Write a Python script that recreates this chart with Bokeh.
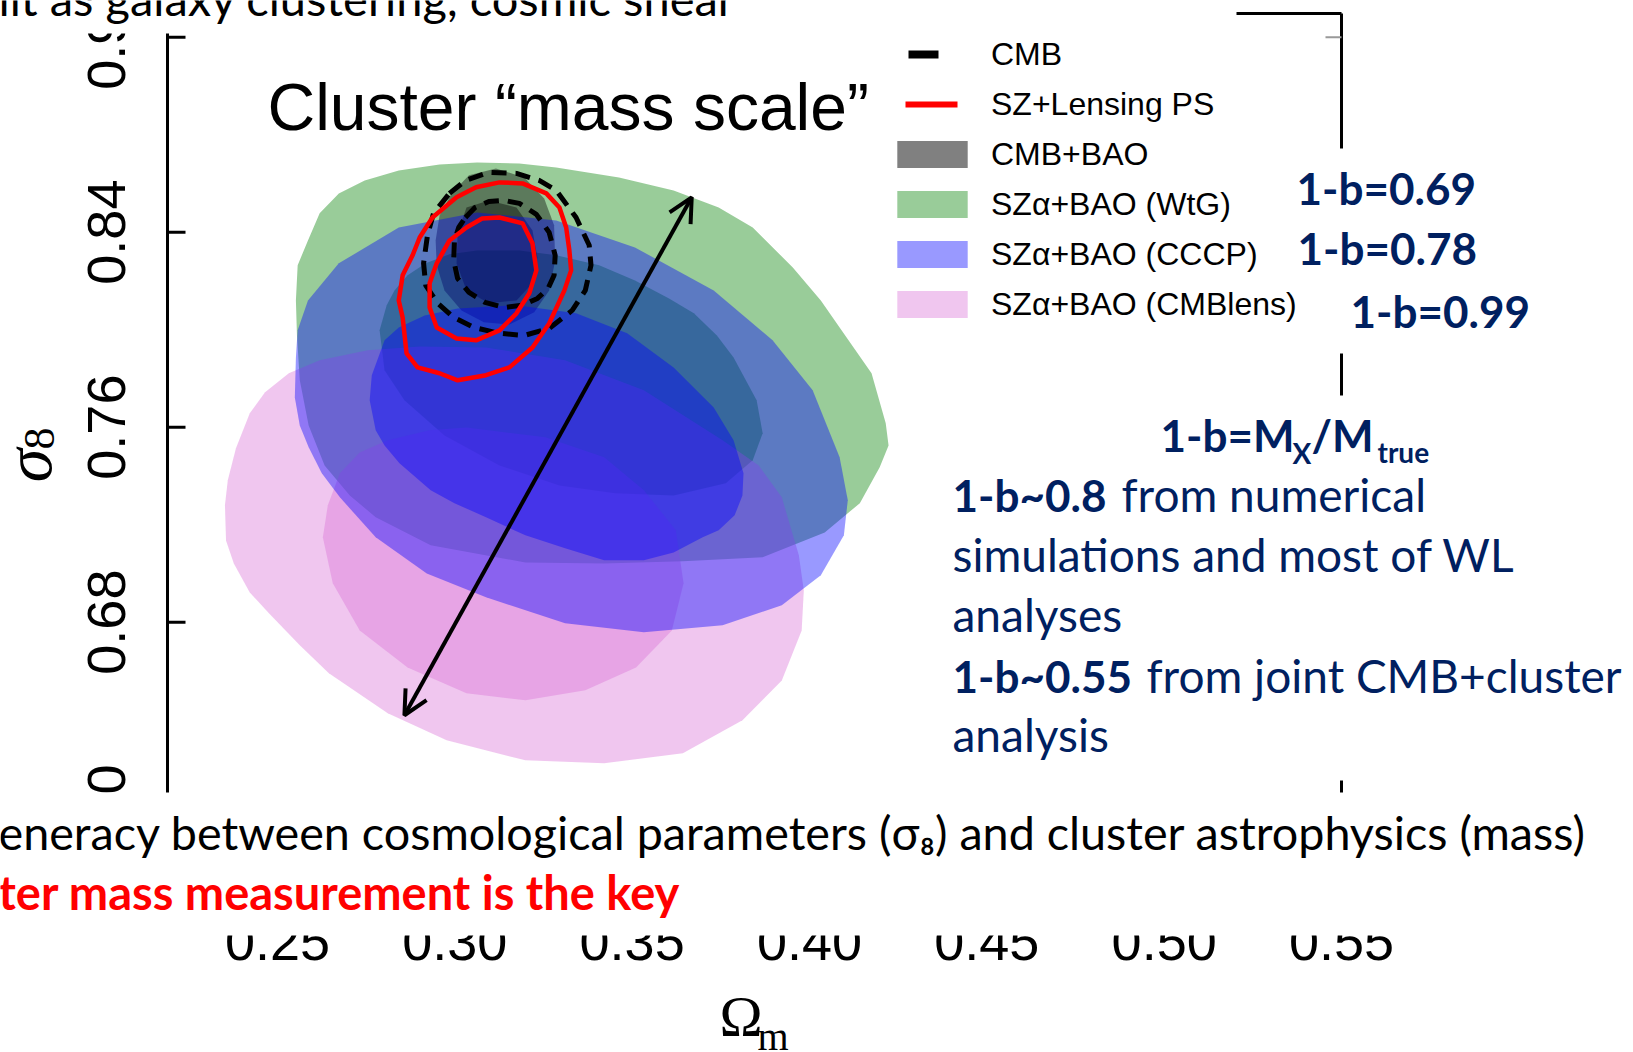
import math
import numpy as np
from bokeh.plotting import figure
from bokeh.models import (Range1d, Label, BoxAnnotation, Legend, LegendItem, Arrow, OpenHead)
from bokeh.core.properties import value
from bokeh.embed import file_html
from bokeh.resources import INLINE

# ---------------- data (Omega_m, sigma_8) ----------------
X_TICKS = [0.25, 0.30, 0.35, 0.40, 0.45, 0.50, 0.55]
Y_TICKS = [0.60, 0.68, 0.76, 0.84, 0.92]
RIGHT_TICKS = [0.92]

LEGEND_LABELS = ["CMB", "SZ+Lensing PS", "CMB+BAO", "SZα+BAO (WtG)",
                 "SZα+BAO (CCCP)", "SZα+BAO (CMBlens)"]
BIAS_LABELS = ["1-b=0.69", "1-b=0.78", "1-b=0.99"]

# SZ alpha + BAO (WtG): 95% and 68% regions
WTG_95_OM = [0.2552, 0.2557, 0.2586, 0.2619, 0.2673, 0.2746, 0.2842, 0.2957, 0.3063, 0.3182,
             0.3286, 0.3463, 0.3617, 0.3744, 0.3840, 0.3953, 0.4032, 0.4085, 0.4175, 0.4215,
             0.4223, 0.4198, 0.4142, 0.4043, 0.3868, 0.3643, 0.3421, 0.3199, 0.2932, 0.2777,
             0.2704, 0.2633, 0.2588, 0.2563, 0.2555]
WTG_95_S8 = [0.8120, 0.8264, 0.8366, 0.8477, 0.8559, 0.8612, 0.8653, 0.8678, 0.8686, 0.8682,
             0.8665, 0.8624, 0.8571, 0.8501, 0.8419, 0.8255, 0.8120, 0.8009, 0.7821, 0.7616,
             0.7525, 0.7435, 0.7288, 0.7168, 0.7066, 0.7050, 0.7041, 0.7045, 0.7115, 0.7230,
             0.7320, 0.7443, 0.7607, 0.7792, 0.7976]
WTG_68_OM = [0.2788, 0.2808, 0.2830, 0.2867, 0.2918, 0.2985, 0.3063, 0.3182, 0.3286, 0.3407,
             0.3508, 0.3604, 0.3674, 0.3739, 0.3786, 0.3851, 0.3868, 0.3840, 0.3764, 0.3617,
             0.3452, 0.3295, 0.3126, 0.2971, 0.2858, 0.2802]
WTG_68_S8 = [0.7997, 0.8100, 0.8161, 0.8223, 0.8272, 0.8309, 0.8325, 0.8325, 0.8305, 0.8264,
             0.8202, 0.8128, 0.8067, 0.7976, 0.7886, 0.7710, 0.7575, 0.7464, 0.7370, 0.7320,
             0.7329, 0.7361, 0.7443, 0.7566, 0.7710, 0.7833]

# SZ alpha + BAO (CCCP)
CCCP_95_OM = [0.2552, 0.2549, 0.2563, 0.2588, 0.2625, 0.2676, 0.2777, 0.2921, 0.3088, 0.3311,
              0.3533, 0.3755, 0.3922, 0.4032, 0.4097, 0.4108, 0.4085, 0.4009, 0.3896, 0.3730,
              0.3508, 0.3286, 0.3063, 0.2842, 0.2673, 0.2586, 0.2557]
CCCP_95_S8 = [0.7886, 0.7722, 0.7607, 0.7517, 0.7411, 0.7312, 0.7148, 0.7000, 0.6902, 0.6795,
              0.6758, 0.6787, 0.6869, 0.6992, 0.7156, 0.7300, 0.7476, 0.7751, 0.7956, 0.8161,
              0.8337, 0.8448, 0.8481, 0.8419, 0.8272, 0.8120, 0.7997]
CCCP_68_OM = [0.2760, 0.2766, 0.2802, 0.2842, 0.2915, 0.3008, 0.3174, 0.3342, 0.3486, 0.3617,
              0.3730, 0.3786, 0.3814, 0.3811, 0.3789, 0.3744, 0.3699, 0.3617, 0.3533, 0.3421,
              0.3311, 0.3199, 0.3088, 0.2999, 0.2932, 0.2844, 0.2802, 0.2777]
CCCP_68_S8 = [0.7710, 0.7813, 0.7956, 0.8009, 0.8058, 0.8087, 0.8100, 0.8067, 0.7985, 0.7845,
              0.7681, 0.7546, 0.7411, 0.7320, 0.7238, 0.7177, 0.7148, 0.7086, 0.7054, 0.7054,
              0.7103, 0.7156, 0.7230, 0.7288, 0.7341, 0.7452, 0.7525, 0.7587]

# SZ alpha + BAO (CMBlens)
LENS_95_OM = [0.2352, 0.2355, 0.2377, 0.2422, 0.2476, 0.2563, 0.2645, 0.2811, 0.2977, 0.3199,
              0.3421, 0.3643, 0.3811, 0.3922, 0.3978, 0.3984, 0.3970, 0.3922, 0.3857, 0.3755,
              0.3533, 0.3311, 0.3088, 0.2901, 0.2754, 0.2619, 0.2532, 0.2465, 0.2422, 0.2383,
              0.2360]
LENS_95_S8 = [0.7279, 0.7135, 0.7041, 0.6922, 0.6836, 0.6705, 0.6590, 0.6426, 0.6315, 0.6233,
              0.6221, 0.6262, 0.6397, 0.6561, 0.6766, 0.6930, 0.7074, 0.7312, 0.7443, 0.7546,
              0.7751, 0.7874, 0.7927, 0.7931, 0.7915, 0.7874, 0.7821, 0.7743, 0.7657, 0.7513,
              0.7382]
LENS_68_OM = [0.2628, 0.2642, 0.2676, 0.2732, 0.2811, 0.2929, 0.3033, 0.3255, 0.3421, 0.3533,
              0.3623, 0.3645, 0.3612, 0.3511, 0.3368, 0.3199, 0.3033, 0.2867, 0.2732, 0.2656]
LENS_68_S8 = [0.7148, 0.7279, 0.7411, 0.7496, 0.7546, 0.7587, 0.7599, 0.7558, 0.7476, 0.7341,
              0.7177, 0.6959, 0.6766, 0.6614, 0.6520, 0.6479, 0.6508, 0.6614, 0.6766, 0.6959]

# CMB+BAO
BAO_95_OM = [0.2946, 0.2957, 0.2991, 0.3040, 0.3116, 0.3196, 0.3252, 0.3280, 0.3283, 0.3266,
             0.3224, 0.3154, 0.3082, 0.3019, 0.2971, 0.2949]
BAO_95_S8 = [0.8366, 0.8468, 0.8559, 0.8633, 0.8661, 0.8624, 0.8538, 0.8428, 0.8284, 0.8161,
             0.8071, 0.8021, 0.8030, 0.8079, 0.8161, 0.8264]
BAO_68_OM = [0.3008, 0.3033, 0.3096, 0.3174, 0.3219, 0.3233, 0.3219, 0.3174, 0.3096, 0.3033,
             0.3005]
BAO_68_S8 = [0.8395, 0.8501, 0.8530, 0.8501, 0.8407, 0.8296, 0.8190, 0.8120, 0.8108, 0.8161,
             0.8272]

# CMB (dashed contours)
CMB_95_OM = [0.2985, 0.3030, 0.3096, 0.3174, 0.3238, 0.3286, 0.3342, 0.3379, 0.3384, 0.3368,
             0.3331, 0.3266, 0.3196, 0.3126, 0.3054, 0.2997, 0.2952, 0.2918, 0.2912, 0.2923,
             0.2940]
CMB_95_S8 = [0.8559, 0.8612, 0.8645, 0.8641, 0.8612, 0.8571, 0.8460, 0.8346, 0.8264, 0.8161,
             0.8079, 0.8005, 0.7976, 0.7985, 0.8009, 0.8050, 0.8108, 0.8182, 0.8272, 0.8387,
             0.8477]
CMB_68_OM = [0.3030, 0.3057, 0.3096, 0.3140, 0.3182, 0.3230, 0.3266, 0.3283, 0.3280, 0.3263,
             0.3233, 0.3191, 0.3140, 0.3085, 0.3040, 0.3008, 0.2997, 0.2999, 0.3011]
CMB_68_S8 = [0.8460, 0.8501, 0.8526, 0.8530, 0.8518, 0.8473, 0.8399, 0.8305, 0.8223, 0.8169,
             0.8128, 0.8100, 0.8091, 0.8112, 0.8153, 0.8210, 0.8284, 0.8366, 0.8419]

# SZ + Lensing PS (red contours)
SZ_95_OM = [0.3126, 0.3191, 0.3258, 0.3295, 0.3314, 0.3323, 0.3328, 0.3309, 0.3266, 0.3219,
            0.3154, 0.3088, 0.3008, 0.2957, 0.2895, 0.2864, 0.2853, 0.2842, 0.2853, 0.2881,
            0.2901, 0.2937, 0.3005, 0.3060]
SZ_95_S8 = [0.8604, 0.8600, 0.8559, 0.8501, 0.8419, 0.8325, 0.8243, 0.8161, 0.8025, 0.7927,
            0.7845, 0.7813, 0.7792, 0.7821, 0.7845, 0.7903, 0.8050, 0.8120, 0.8223, 0.8305,
            0.8378, 0.8460, 0.8543, 0.8584]
SZ_68_OM = [0.3126, 0.3191, 0.3219, 0.3230, 0.3210, 0.3174, 0.3126, 0.3060, 0.3005, 0.2949,
            0.2929, 0.2929, 0.2949, 0.2985, 0.3033, 0.3077]
SZ_68_S8 = [0.8460, 0.8436, 0.8354, 0.8243, 0.8149, 0.8067, 0.7997, 0.7956, 0.7964, 0.8009,
            0.8091, 0.8190, 0.8272, 0.8366, 0.8419, 0.8456]

# degeneracy arrow (Omega_m, sigma_8) of both tips
ARROW_OM = [0.2858, 0.3668]
ARROW_S8 = [0.6418, 0.8543]

# ---------------- layout ----------------
W, H = 1633, 1052
BOX_L, BOX_R, BOX_T, BOX_B = 167, 1341, 13, 870      # plot box in page pixels
X_LIM = (0.219, 0.550)                                # plot box in data units
Y_LIM = (0.5781, 0.9297)
NAVY = "#002060"
PX_X = (X_LIM[1] - X_LIM[0]) / (BOX_R - BOX_L)        # data units per pixel
PX_Y = (Y_LIM[1] - Y_LIM[0]) / (BOX_B - BOX_T)


def px_x(px):
    return X_LIM[0] + (px - BOX_L) * PX_X


def px_y(py):
    return Y_LIM[1] - (py - BOX_T) * PX_Y


# the frame covers the whole page so nothing drawn outside the plot box is clipped
p = figure(width=W, height=H, x_range=Range1d(px_x(0), px_x(W)),
           y_range=Range1d(px_y(H), px_y(0)), output_backend="svg", toolbar_location=None,
           x_axis_location=None, y_axis_location=None,
           min_border=0, min_border_left=0, min_border_right=0,
           min_border_top=0, min_border_bottom=0)
p.outline_line_color = None
p.grid.visible = False
p.background_fill_color = "white"
p.border_fill_color = "white"

# ---- plot box and axes (drawn through the data scales) ----
p.segment(x0=[X_LIM[0], X_LIM[1], X_LIM[0]], y0=[Y_LIM[0], Y_LIM[0], Y_LIM[1]],
          x1=[X_LIM[0], X_LIM[1], X_LIM[1]], y1=[Y_LIM[1], Y_LIM[1], Y_LIM[1]],
          line_color="black", line_width=3)
p.segment(x0=[X_LIM[0]] * len(Y_TICKS), y0=Y_TICKS,
          x1=[X_LIM[0] + 18 * PX_X] * len(Y_TICKS), y1=Y_TICKS,
          line_color="black", line_width=3)
p.segment(x0=[X_LIM[1] - 16 * PX_X] * len(RIGHT_TICKS), y0=RIGHT_TICKS,
          x1=[X_LIM[1]] * len(RIGHT_TICKS), y1=RIGHT_TICKS,
          line_color="#999999", line_width=2)
p.text(x=[px_x(106)] * len(Y_TICKS), y=Y_TICKS, text=[f"{t:.2f}" for t in Y_TICKS],
       angle=math.pi / 2, text_align="center", text_baseline="middle",
       text_font=value("Liberation Sans"), text_font_size="54px", text_color="black")
p.text(x=X_TICKS, y=[px_y(941)] * len(X_TICKS), text=[f"{t:.2f}" for t in X_TICKS],
       text_align="center", text_baseline="middle",
       text_font=value("Liberation Sans"), text_font_size="54px", text_color="black")

# ---- filled regions (outer 95% + inner 68%, same translucent colour) ----
r_wtg = p.patches(xs=[WTG_95_OM, WTG_68_OM], ys=[WTG_95_S8, WTG_68_S8],
                  fill_color="#008000", fill_alpha=0.4, line_color=None)
r_bao = p.patches(xs=[BAO_95_OM, BAO_68_OM], ys=[BAO_95_S8, BAO_68_S8],
                  fill_color="#000000", fill_alpha=0.4, line_color=None)
r_lens = p.patches(xs=[LENS_95_OM, LENS_68_OM], ys=[LENS_95_S8, LENS_68_S8],
                   fill_color="#DA70D6", fill_alpha=0.4, line_color=None)
r_cccp = p.patches(xs=[CCCP_95_OM, CCCP_68_OM], ys=[CCCP_95_S8, CCCP_68_S8],
                   fill_color="#0000FF", fill_alpha=0.4, line_color=None)

# ---- line contours ----
p.patches(xs=[CMB_95_OM, CMB_68_OM], ys=[CMB_95_S8, CMB_68_S8], fill_color=None,
          line_color="black", line_width=5, line_dash="15 9")
p.patches(xs=[SZ_95_OM, SZ_68_OM], ys=[SZ_95_S8, SZ_68_S8], fill_color=None,
          line_color="#FF0000", line_width=4.5, line_join="round")

# legend keys (no visible data of their own)
NAN = np.array([np.nan])
r_cmb_key = p.line(x=NAN, y=NAN, line_color="black",
                   line_width=8, line_dash="30 58", line_dash_offset=68)
r_sz_key = p.line(x=NAN, y=NAN, line_color="#FF0000",
                  line_width=6, line_dash="52 36", line_dash_offset=71)
r_bao_key = p.patch(x=NAN, y=NAN, fill_color="#808080", fill_alpha=1.0, line_color=None)

p.add_layout(Arrow(start=OpenHead(size=24, line_width=4), end=OpenHead(size=24, line_width=4),
                   x_start=ARROW_OM[0], y_start=ARROW_S8[0],
                   x_end=ARROW_OM[1], y_end=ARROW_S8[1], line_width=4, line_color="black"))


def white_box(x0, x1, y0, y1):
    p.add_layout(BoxAnnotation(left=px_x(x0), right=px_x(x1), top=px_y(y0), bottom=px_y(y1),
                               fill_color="white", fill_alpha=1.0, line_color=None,
                               level="annotation"))


MID = {"Lato": 0.387, "Liberation Sans": 0.35, "Liberation Serif": 0.34}


def add_text(text, px, base, size, color="black", font="Lato", style="normal",
             angle=0.0, align="left"):
    # base = baseline in page pixels; the label is anchored on its vertical middle
    if angle == 0.0:
        x, y = px, base - MID[font] * size
    else:
        x, y = base - MID[font] * size, px
    p.add_layout(Label(x=px_x(x), y=px_y(y), text=text, text_font=font,
                       text_font_size=f"{size}px", text_color=color,
                       text_font_style=style, text_align=align,
                       text_baseline="middle", angle=angle))


# slide text boxes that sit over the chart
white_box(-20, 1236, -20, 33)
white_box(1322, 1362, 148, 353)
white_box(945, 1650, 395, 780)
white_box(-20, 1650, 792, 935)

legend = Legend(items=[LegendItem(label=LEGEND_LABELS[0], renderers=[r_cmb_key]),
                       LegendItem(label=LEGEND_LABELS[1], renderers=[r_sz_key]),
                       LegendItem(label=LEGEND_LABELS[2], renderers=[r_bao_key]),
                       LegendItem(label=LEGEND_LABELS[3], renderers=[r_wtg]),
                       LegendItem(label=LEGEND_LABELS[4], renderers=[r_cccp]),
                       LegendItem(label=LEGEND_LABELS[5], renderers=[r_lens])],
                location=(888, 729.5), orientation="vertical",
                label_text_font="Liberation Sans", label_text_font_size="32px",
                label_text_color="black", glyph_width=88, glyph_height=34,
                label_standoff=15, spacing=13, padding=0, margin=0,
                border_line_color=None, background_fill_alpha=0)
p.add_layout(legend)

add_text("ilt as galaxy clustering, cosmic shear", -2, 16, 47)
add_text("Cluster “mass scale”", 267, 130, 66, font="Liberation Sans")

add_text(BIAS_LABELS[0], 1296, 205, 44, NAVY, style="bold")
add_text(BIAS_LABELS[1], 1297, 265, 44, NAVY, style="bold")
add_text(BIAS_LABELS[2], 1350, 328, 44, NAVY, style="bold")

add_text("1-b=M", 1160, 452, 44, NAVY, style="bold")
add_text("X", 1292, 463, 28, NAVY, style="bold")
add_text("/M", 1311, 452, 44, NAVY, style="bold")
add_text("true", 1377, 462, 28, NAVY, style="bold")

add_text("1-b~0.8", 952, 512, 44, NAVY, style="bold")
add_text("from numerical", 1121, 512, 46, NAVY)
add_text("simulations and most of WL", 952, 572, 46, NAVY)
add_text("analyses", 952, 632, 46, NAVY)
add_text("1-b~0.55", 952, 693, 44, NAVY, style="bold")
add_text("from joint CMB+cluster", 1146, 693, 46, NAVY)
add_text("analysis", 952, 752, 46, NAVY)

add_text("eneracy between cosmological parameters (σ₈) and cluster astrophysics (mass)",
         -2, 850, 46.7)
add_text("ter mass measurement is the key", -2, 910, 47, "#FF0000", style="bold")

# axis titles
add_text("Ω", 719, 1036, 58, font="Liberation Serif")
add_text("m", 757, 1050, 40, font="Liberation Serif")
add_text("σ", 465, 51, 68, font="Liberation Serif", style="italic",
         angle=math.pi / 2, align="center")
add_text("8", 438, 54, 44, font="Liberation Serif", angle=math.pi / 2, align="center")

open("out.html", "w").write(file_html(p, INLINE))
